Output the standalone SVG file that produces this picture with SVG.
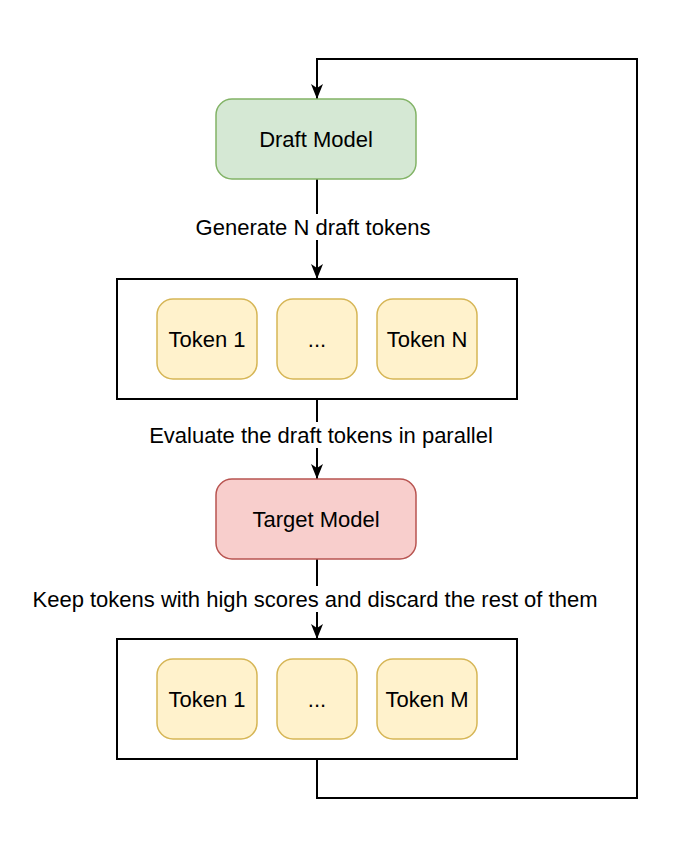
<svg xmlns="http://www.w3.org/2000/svg" width="674" height="850" viewBox="0 0 674 850">
<style>
text{font-family:"Liberation Sans",Arial,sans-serif;font-size:22px;fill:#000;text-anchor:middle;dominant-baseline:central}
.tok{fill:#fff2cc;stroke:#d6b656;stroke-width:1.5}
.box{fill:#fff;stroke:#000;stroke-width:2}
.edge{fill:none;stroke:#000;stroke-width:2}
.lbl{fill:#fff}
</style>
<defs>
<marker id="arr" viewBox="0 0 15 12" refX="15" refY="6" markerWidth="15" markerHeight="12" orient="auto" markerUnits="userSpaceOnUse">
<path d="M0,0 L15,6 L0,12 L4,6 Z" fill="#000"/>
</marker>
</defs>
<rect width="674" height="850" fill="#fff"/>
<g id="connectors">
<path class="edge" d="M317,759 V798 H637 V59 H317 V99" marker-end="url(#arr)"/>
<path class="edge" d="M317,179 V279" marker-end="url(#arr)"/>
<path class="edge" d="M317,399 V479" marker-end="url(#arr)"/>
<path class="edge" d="M317,559 V639" marker-end="url(#arr)"/>
<rect class="lbl" x="193" y="214" width="242" height="26"/>
<text x="313" y="227">Generate N draft tokens</text>
<rect class="lbl" x="146" y="422" width="350" height="26"/>
<text x="321" y="435">Evaluate the draft tokens in parallel</text>
<rect class="lbl" x="30" y="586" width="570" height="26"/>
<text x="315" y="599">Keep tokens with high scores and discard the rest of them</text>
</g>
<g id="draft-model">
<rect x="216" y="99" width="200" height="80" rx="16" fill="#d5e8d4" stroke="#82b366" stroke-width="1.5"/>
<text x="316" y="139">Draft Model</text>
</g>
<g id="draft-tokens">
<rect class="box" x="117" y="279" width="400" height="120"/>
<g id="token-1"><rect class="tok" x="157" y="299" width="100" height="80" rx="16"/><text x="207" y="339">Token 1</text></g>
<g id="token-dots"><rect class="tok" x="277" y="299" width="80" height="80" rx="16"/><text x="317" y="339">...</text></g>
<g id="token-n"><rect class="tok" x="377" y="299" width="100" height="80" rx="16"/><text x="427" y="339">Token N</text></g>
</g>
<g id="target-model">
<rect x="216" y="479" width="200" height="80" rx="16" fill="#f8cecc" stroke="#b85450" stroke-width="1.5"/>
<text x="316" y="519">Target Model</text>
</g>
<g id="kept-tokens">
<rect class="box" x="117" y="639" width="400" height="120"/>
<g id="token-1b"><rect class="tok" x="157" y="659" width="100" height="80" rx="16"/><text x="207" y="699">Token 1</text></g>
<g id="token-dots-b"><rect class="tok" x="277" y="659" width="80" height="80" rx="16"/><text x="317" y="699">...</text></g>
<g id="token-m"><rect class="tok" x="377" y="659" width="100" height="80" rx="16"/><text x="427" y="699">Token M</text></g>
</g>
</svg>
